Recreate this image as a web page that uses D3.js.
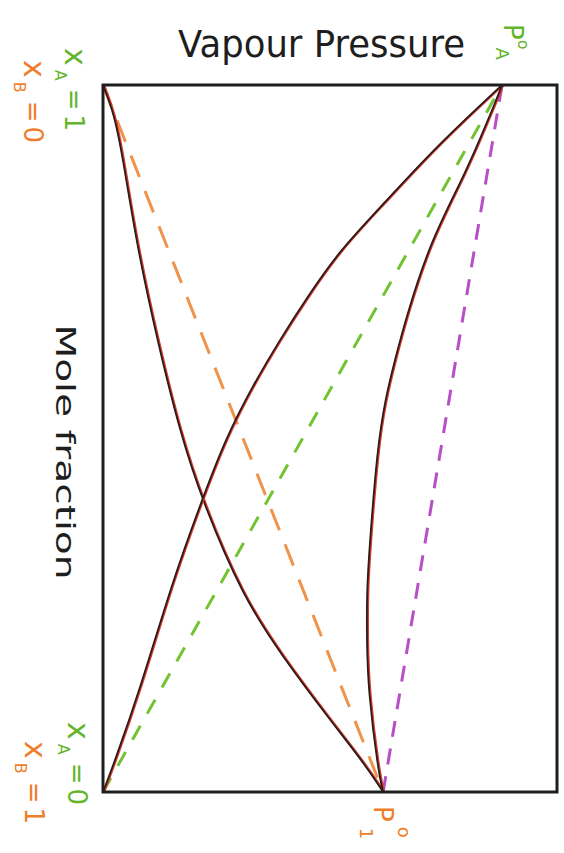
<!DOCTYPE html>
<html lang="en">
<head>
  <meta charset="utf-8" />
  <style>
    body { margin: 0; background: #fff; }
    svg { display: block; }
  </style>
</head>
<body>
<script src="https://cdn.jsdelivr.net/npm/d3@7"></script>
<script>

const margin = { top: 85, right: 7, bottom: 61, left: 103 };
const width = 564 - margin.left - margin.right;
const height = 853 - margin.top - margin.bottom;

// pressure in arbitrary units (0..100 across the frame), x_A from 0 to 1
const pOneStar = 61.7;
const pAStar = 87.9;

// curves, as [x_A, pressure]
const curveB = [
  [1.000, 0], [0.960, 2.4], [0.904, 4.2], [0.771, 7.5], [0.635, 12.1],
  [0.508, 17.0], [0.413, 21.8], [0.276, 30.8], [0.191, 39.6], [0.102, 50.0],
  [0.040, 57.6], [0.000, 61.7]
];
const curveTotal = [
  [0.000, 0], [0.040, 2.4], [0.144, 8.1], [0.300, 15.4], [0.413, 21.8],
  [0.500, 27.0], [0.575, 33.0], [0.640, 39.0], [0.700, 45.0], [0.765, 52.0],
  [0.830, 61.5], [0.908, 72.7], [0.975, 83.7], [1.000, 87.9]
];
const curveRight = [
  [0.000, 61.7], [0.030, 60.6], [0.144, 58.4], [0.215, 58.1], [0.286, 58.1],
  [0.356, 58.8], [0.484, 60.4], [0.554, 62.1], [0.611, 64.3], [0.670, 66.7],
  [0.777, 72.0], [0.870, 79.4], [0.926, 83.2], [0.975, 86.4], [1.000, 87.9]
];

// ideal (dashed) lines
const idealB = [[1, 0], [0, pOneStar]];
const idealA = [[0, 0], [1, pAStar]];
const idealMix = [[0, pOneStar], [1, pAStar]];

const svg = d3.select('body')
  .append('svg')
  .attr('width', width + margin.left + margin.right)
  .attr('height', height + margin.top + margin.bottom);

const g = svg.append('g')
  .attr('transform', `translate(${margin.left}, ${margin.top})`);

const x = d3.scaleLinear().domain([0, 100]).range([0, width]);
const y = d3.scaleLinear().domain([0, 1]).range([height, 0]);

const line = d3.line()
  .x(d => x(d[1]))
  .y(d => y(d[0]))
  .curve(d3.curveBasis);

// dashed ideal lines
const dashed = [
  { data: idealB, color: '#f0934a', dash: '23,15' },
  { data: idealA, color: '#72c231', dash: '16,14' },
  { data: idealMix, color: '#b84fc6', dash: '16,12' }
];
dashed.forEach(s => {
  g.append('path')
    .attr('d', line(s.data))
    .attr('fill', 'none')
    .attr('stroke', s.color)
    .attr('stroke-width', 3)
    .attr('stroke-dasharray', s.dash);
});

// real curves: red pen underneath, dark pen on top
[curveB, curveTotal, curveRight].forEach(c => {
  g.append('path')
    .attr('d', line(c))
    .attr('transform', 'translate(0.9,0)')
    .attr('fill', 'none')
    .attr('stroke', '#dc3a2c')
    .attr('stroke-width', 2.4);
  g.append('path')
    .attr('d', line(c))
    .attr('fill', 'none')
    .attr('stroke', '#2a1c1c')
    .attr('stroke-width', 1.8);
});

// frame
g.append('rect')
  .attr('width', width)
  .attr('height', height)
  .attr('fill', 'none')
  .attr('stroke', '#1e1e1e')
  .attr('stroke-width', 3);

// title
svg.append('text')
  .attr('x', 178)
  .attr('y', 57)
  .attr('textLength', 287)
  .attr('lengthAdjust', 'spacingAndGlyphs')
  .style('font-family', '"DejaVu Sans", sans-serif')
  .style('font-size', '37px')
  .attr('fill', '#1e1e1e')
  .text('Vapour Pressure');

// rotated labels: parts are [text, size, dx, dy]
function rotLabel(px, py, color, parts, spacing) {
  const t = svg.append('text')
    .attr('transform', `translate(${px}, ${py}) rotate(90)`)
    .style('font-family', '"DejaVu Sans", sans-serif')
    .style('letter-spacing', (spacing || 0) + 'px')
    .attr('fill', color);
  parts.forEach(p => {
    t.append('tspan')
      .style('font-size', p[1] + 'px')
      .attr('dx', p[2])
      .attr('dy', p[3])
      .text(p[0]);
  });
  return t;
}

const orange = '#ee7e2b';
const green = '#63b52b';

rotLabel(56, 452, '#1e1e1e', [['Mole  fraction', 26, 0, 0]])
  .attr('text-anchor', 'middle')
  .attr('textLength', 255)
  .attr('lengthAdjust', 'spacingAndGlyphs');

rotLabel(24, 60, orange, [['x', 30, 0, 0], ['B', 16, 0, 10], ['=0', 26, 4, -10]], 4);
rotLabel(65, 48, green, [['x', 30, 0, 0], ['A', 16, 0, 10], ['=1', 26, 4, -10]], 4);
rotLabel(25, 741, orange, [['x', 30, 0, 0], ['B', 16, 0, 10], ['=1', 26, 4, -10]], 4);
rotLabel(68, 722, green, [['x', 30, 0, 0], ['A', 16, 0, 10], ['=0', 26, 4, -10]], 4);

rotLabel(504, 24, green, [['P', 26, 0, 0], ['o', 16, 0, -14], ['A', 18, -2, 22]]);
rotLabel(374, 806, orange, [['P', 26, 0, 0], ['o', 18, 5, -24], ['1', 18, -10, 38]]);

</script>
</body>
</html>
